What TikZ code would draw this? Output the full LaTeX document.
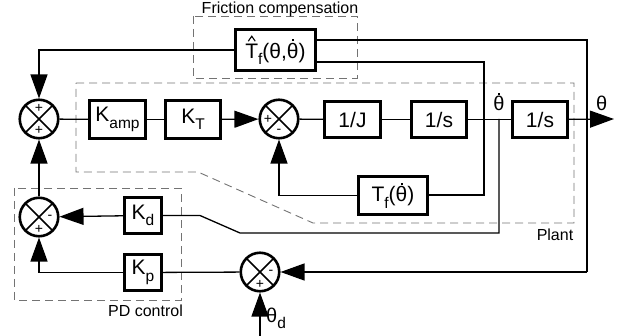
\documentclass[tikz,border=0pt]{standalone}
\usepackage{fontspec}
\setmainfont{Liberation Sans}
\usetikzlibrary{arrows.meta}
% lowered subscript, dotted theta and hatted T
\newcommand\sbs[1]{\raisebox{-0.3em}{\fontsize{15.5}{15.5}\selectfont #1}}
\newcommand\thdot{\leavevmode\hbox{θ\llap{\makebox[0.556em]{\raisebox{0.8em}{\rule{2pt}{2pt}}}}}}
\newcommand\hatT{\leavevmode\hbox{T\llap{\makebox[0.611em]{\raisebox{0.8em}{%
  \tikz[baseline=0pt]{\draw[line width=1.1pt] (0pt,0pt) -- (3.5pt,5pt) -- (7pt,0pt);}}}}}}
\begin{document}
\begin{tikzpicture}[x=1pt,y=-1pt,
  wire/.style={line width=1.3pt},
  sig/.style={wire,-{Triangle[length=24pt,width=17pt]}},
  blk/.style={draw,line width=2.6pt,inner sep=0pt,font=\fontsize{21}{24}\selectfont},
  sumj/.style={circle,draw,line width=2.6pt,minimum size=38.5pt,inner sep=0pt,
    path picture={\draw[line width=1.5pt]
      (path picture bounding box.north west) -- (path picture bounding box.south east)
      (path picture bounding box.north east) -- (path picture bounding box.south west);}},
  sgn/.style={font=\fontsize{14}{14}\selectfont,inner sep=0pt},
  grp/.style={draw=black!55,line width=0.9pt,dash pattern=on 8pt off 5pt},
  lbl/.style={font=\fontsize{16}{18}\selectfont,inner sep=0pt,anchor=base},
  sym/.style={font=\fontsize{20}{22}\selectfont,inner sep=0pt,anchor=base}]
\useasboundingbox (0,0) rectangle (625,336);

% group outlines
\draw[grp] (193,16) rectangle (357,78);
\draw[grp] (76,83) -- (574,83) -- (574,223) -- (313,223) -- (198,172) -- (76,172) -- cycle;
\draw[grp] (14,188) rectangle (181,300);
\node[lbl] (lfc) at (280,14) {Friction compensation};
\node[lbl] (lpl) at (555,241) {Plant};
\node[lbl] (lpd) at (145.5,317) {PD control};

% summing junctions
\node[sumj] (s1) at (39,119) {};
\node[sumj] (s2) at (279,119) {};
\node[sumj] (s4) at (39,217) {};
\node[sumj] (s3) at (260,272) {};
\node[sgn] at (39,108) {+};
\node[sgn] at (39,130) {+};
\node[sgn] at (268,119) {+};
\node[sgn] at (279,131) {-};
\node[sgn] at (50,217) {-};
\node[sgn] at (39,229) {+};
\node[sgn] at (271,272) {-};
\node[sgn] at (260,284) {+};

% blocks
\node[blk,minimum width=56.5pt,minimum height=37.5pt] (Kamp) at (117.5,119.5) {K\sbs{amp}};
\node[blk,minimum width=55.5pt,minimum height=37.5pt] (KT) at (193,119.5) {K\sbs{T}};
\node[blk,minimum width=56.5pt,minimum height=36.5pt] (iJ) at (352.5,119.5) {1/J};
\node[blk,minimum width=55.5pt,minimum height=36.5pt] (is1) at (439,119.5) {1/s};
\node[blk,minimum width=55.5pt,minimum height=36.5pt] (is2) at (540,119.5) {1/s};
\node[blk,minimum width=69.5pt,minimum height=38.5pt] (Tf) at (393,195.5) {T\sbs{f}(\thdot)};
\node[blk,minimum width=80.5pt,minimum height=41.5pt] (Tfh) at (275.5,50) {\hatT\sbs{f}(θ,\thdot)};
\node[blk,minimum width=37.5pt,minimum height=35.5pt] (Kd) at (143,215.5) {K\sbs{d}};
\node[blk,minimum width=37.5pt,minimum height=36.5pt] (Kp) at (143,272.5) {K\sbs{p}};

% signal labels
\node[sym] (lthd) at (499,111) {\thdot};
\node[sym,anchor=base west] (lth) at (596,111) {θ};
\node[sym,anchor=base west] (lthr) at (266,323) {θ\sbs{d}};

% branch points and free ends
\coordinate (jv) at (499,119);
\coordinate (out) at (614,119);
\coordinate (thT) at (587,40);
\coordinate (thB) at (587,272);
\coordinate (wT) at (484,62);
\coordinate (wB) at (484,195);
\coordinate (ref) at (260,336);

% forward path
\draw[wire] (s1) -- (Kamp);
\draw[wire] (Kamp) -- (KT);
\draw[sig] (KT) -- (s2);
\draw[wire] (s2) -- (iJ);
\draw[wire] (iJ) -- (is1);
\draw[wire] (is1) -- (is2);
\draw[sig] (is2) -- (out);

% theta and theta-dot taps
\draw[wire] (Tfh.east |- thT) -- (thT) -- (thB);
\draw[sig] (thB) -- (s3);
\draw[wire] (Tfh.east |- wT) -- (wT) -- (wB) -- (Tf.east |- wB);
\draw[sig] (Tf.west) -| (s2.south);
\draw[wire] (jv) -- (499,233) -- (240,233) -- (200,215.5) -- (Kd.east);
\draw[sig] (Kd) -- (s4);

% compensation and PD paths
\draw[sig] (Tfh.west) -| (s1.north);
\draw[sig] (s4) -- (s1);
\draw[wire] (s3) -- (Kp);
\draw[sig] (Kp.west) -| (s4.south);
\draw[sig] (ref) -- (s3);
\end{tikzpicture}
\end{document}
